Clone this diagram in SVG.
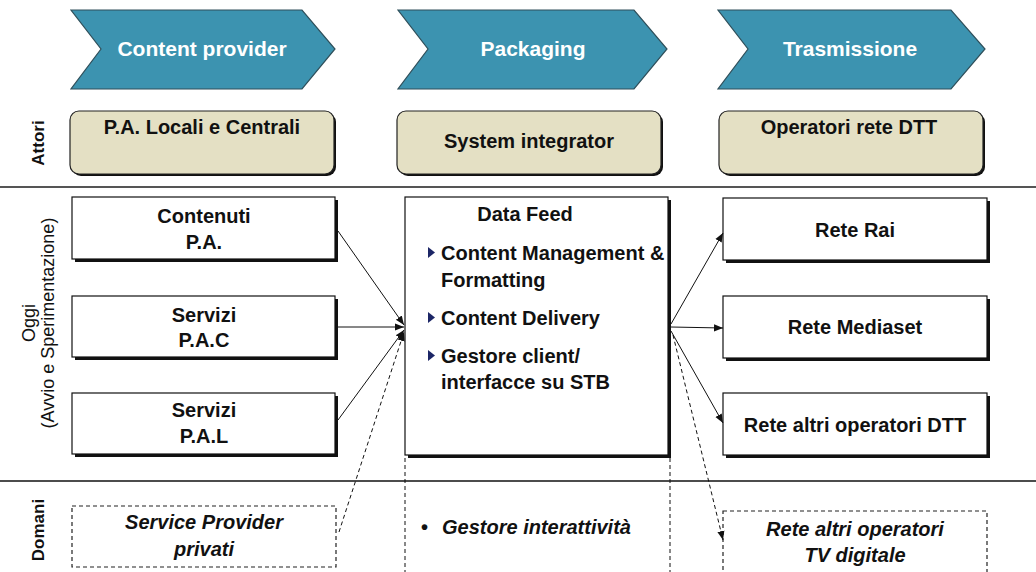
<svg xmlns="http://www.w3.org/2000/svg" width="1036" height="572" viewBox="0 0 1036 572">
<style>
.t{font-family:"Liberation Sans",Arial,sans-serif;font-weight:bold;font-size:20px;fill:#111;}
.h{font-family:"Liberation Sans",Arial,sans-serif;font-weight:bold;font-size:21px;fill:#fff;}
.i{font-family:"Liberation Sans",Arial,sans-serif;font-weight:bold;font-style:italic;font-size:20px;fill:#111;}
.side{font-family:"Liberation Sans",Arial,sans-serif;font-size:18px;fill:#111;}
.chev{fill:#3C93B0;stroke:#2F4F5A;stroke-width:1.2;}
.actor{fill:#E4E0C4;stroke:#222;stroke-width:1.2;}
.ashadow{fill:#111;}
.box{fill:#fff;stroke:#111;stroke-width:1.2;}
.shadow{fill:#111;}
.dbox{fill:none;stroke:#222;stroke-width:1.2;stroke-dasharray:4,3;}
.ln{stroke:#111;stroke-width:1;fill:none;}
.dl{stroke:#111;stroke-width:1;fill:none;stroke-dasharray:4,3;}
</style>
<defs>
<marker id="arr" viewBox="0 0 10 10" refX="10" refY="5" markerWidth="9" markerHeight="9" markerUnits="userSpaceOnUse" orient="auto">
<path d="M0,1 L10,5 L0,9 Z" fill="#111"/>
</marker>
</defs>
<rect width="1036" height="572" fill="#fff"/>

<g id="chevron-content-provider">
<path class="chev" d="M71,10 L302,10 L335,49 L302,89 L71,89 L101,49 Z"/>
<text class="h" x="202" y="56" text-anchor="middle">Content provider</text>
</g>
<g id="chevron-packaging">
<path class="chev" d="M398,10 L634,10 L667,49 L634,89 L398,89 L428,49 Z"/>
<text class="h" x="533" y="56" text-anchor="middle">Packaging</text>
</g>
<g id="chevron-trasmissione">
<path class="chev" d="M718,10 L951,10 L985,49 L951,89 L718,89 L748,49 Z"/>
<text class="h" x="850" y="56" text-anchor="middle">Trasmissione</text>
</g>

<g id="label-attori">
<text class="side" transform="translate(44,143) rotate(-90)" text-anchor="middle" style="font-weight:bold;font-size:17px">Attori</text>
</g>
<g id="actor-pa">
<rect class="ashadow" x="72" y="113" width="264" height="63" rx="9"/>
<rect class="actor" x="70" y="111" width="264" height="63" rx="9"/>
<text class="t" x="202" y="134" text-anchor="middle">P.A. Locali e Centrali</text>
</g>
<g id="actor-system-integrator">
<rect class="ashadow" x="399" y="113" width="264" height="63" rx="9"/>
<rect class="actor" x="397" y="111" width="264" height="63" rx="9"/>
<text class="t" x="529" y="148" text-anchor="middle">System integrator</text>
</g>
<g id="actor-operatori">
<rect class="ashadow" x="721" y="113" width="264" height="63" rx="9"/>
<rect class="actor" x="719" y="111" width="264" height="63" rx="9"/>
<text class="t" x="849" y="134" text-anchor="middle">Operatori rete DTT</text>
</g>

<line x1="0" y1="187" x2="1036" y2="187" stroke="#555" stroke-width="2"/>
<line x1="0" y1="481" x2="1036" y2="481" stroke="#111" stroke-width="1.5"/>

<g id="label-oggi">
<text class="side" transform="translate(35,323) rotate(-90)" text-anchor="middle">Oggi</text>
<text class="side" transform="translate(54,323) rotate(-90)" text-anchor="middle">(Avvio e Sperimentazione)</text>
</g>

<g id="node-contenuti-pa">
<rect class="shadow" x="75" y="200" width="263" height="62"/>
<rect class="box" x="72" y="197" width="263" height="62"/>
<text class="t" x="204" y="223" text-anchor="middle">Contenuti</text>
<text class="t" x="204" y="249" text-anchor="middle">P.A.</text>
</g>
<g id="node-servizi-pac">
<rect class="shadow" x="75" y="299" width="263" height="61"/>
<rect class="box" x="72" y="296" width="263" height="61"/>
<text class="t" x="204" y="322" text-anchor="middle">Servizi</text>
<text class="t" x="204" y="347" text-anchor="middle">P.A.C</text>
</g>
<g id="node-servizi-pal">
<rect class="shadow" x="75" y="396" width="263" height="61"/>
<rect class="box" x="72" y="393" width="263" height="61"/>
<text class="t" x="204" y="417" text-anchor="middle">Servizi</text>
<text class="t" x="204" y="443" text-anchor="middle">P.A.L</text>
</g>

<g id="node-data-feed">
<rect class="shadow" x="408" y="200" width="263" height="258"/>
<rect class="box" x="405" y="197" width="263" height="258"/>
<text class="t" x="525" y="221" text-anchor="middle">Data Feed</text>
<path d="M428,247 L435,252.5 L428,258 Z" fill="#1C2666"/>
<text class="t" x="441" y="260">Content Management &amp;</text>
<text class="t" x="441" y="287">Formatting</text>
<path d="M428,312 L435,317.5 L428,323 Z" fill="#1C2666"/>
<text class="t" x="441" y="325">Content Delivery</text>
<path d="M428,350 L435,355.5 L428,361 Z" fill="#1C2666"/>
<text class="t" x="441" y="363">Gestore client/</text>
<text class="t" x="441" y="389">interfacce su STB</text>
</g>

<g id="node-rete-rai">
<rect class="shadow" x="726" y="201" width="264" height="62"/>
<rect class="box" x="723" y="198" width="264" height="62"/>
<text class="t" x="855" y="237" text-anchor="middle">Rete Rai</text>
</g>
<g id="node-rete-mediaset">
<rect class="shadow" x="726" y="299" width="264" height="62"/>
<rect class="box" x="723" y="296" width="264" height="62"/>
<text class="t" x="855" y="334" text-anchor="middle">Rete Mediaset</text>
</g>
<g id="node-rete-altri-dtt">
<rect class="shadow" x="726" y="396" width="264" height="62"/>
<rect class="box" x="723" y="393" width="264" height="62"/>
<text class="t" x="855" y="432" text-anchor="middle">Rete altri operatori DTT</text>
</g>

<g id="label-domani">
<text class="side" transform="translate(44,530) rotate(-90)" text-anchor="middle" style="font-weight:bold;font-size:17px">Domani</text>
</g>
<g id="node-service-provider">
<rect class="dbox" x="72" y="506" width="264" height="61"/>
<text class="i" x="204" y="529" text-anchor="middle">Service Provider</text>
<text class="i" x="204" y="556" text-anchor="middle">privati</text>
</g>
<g id="node-gestore-interattivita">
<text class="i" x="421" y="534" style="font-style:normal">•</text>
<text class="i" x="442" y="534">Gestore interattività</text>
</g>
<g id="node-rete-tv-digitale">
<rect class="dbox" x="723" y="511" width="264" height="70"/>
<text class="i" x="855" y="536" text-anchor="middle">Rete altri operatori</text>
<text class="i" x="855" y="562" text-anchor="middle">TV digitale</text>
</g>

<g id="connectors">
<line class="dl" x1="405" y1="458" x2="405" y2="572"/>
<line class="dl" x1="670" y1="458" x2="670" y2="572"/>
<line class="ln" x1="338" y1="231" x2="404" y2="325" marker-end="url(#arr)"/>
<line class="ln" x1="338" y1="327" x2="404" y2="327" marker-end="url(#arr)"/>
<line class="ln" x1="338" y1="420" x2="404" y2="330" marker-end="url(#arr)"/>
<line class="dl" x1="339" y1="532" x2="404" y2="332" marker-end="url(#arr)"/>
<line class="ln" x1="671" y1="324" x2="723" y2="233" marker-end="url(#arr)"/>
<line class="ln" x1="671" y1="327" x2="723" y2="328" marker-end="url(#arr)"/>
<line class="ln" x1="671" y1="331" x2="723" y2="423" marker-end="url(#arr)"/>
<line class="dl" x1="673" y1="335" x2="723" y2="540" marker-end="url(#arr)"/>
</g>
</svg>
